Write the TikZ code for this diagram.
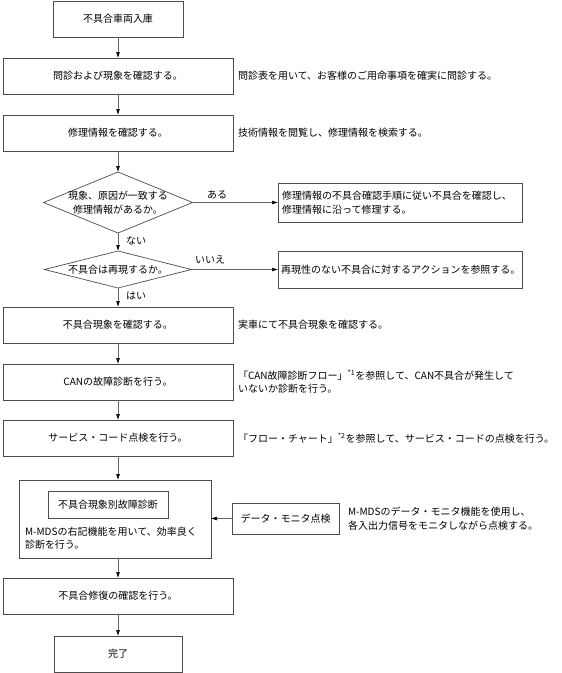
\documentclass[tikz,border=0pt]{standalone}
\usepackage{fontspec}
\setmainfont{Noto Sans CJK JP}
\usetikzlibrary{shapes.geometric,arrows.meta}
\begin{document}
\begin{tikzpicture}[x=1pt,y=-1pt,
  every node/.style={font=\fontsize{10}{13.5}\selectfont, inner sep=0pt, outer sep=0pt},
  box/.style={draw=black!70, line width=0.7pt, minimum height=36pt, minimum width=230pt},
  dia/.style={diamond, draw=black!70, line width=0.7pt},
  note/.style={anchor=west, align=left},
  arr/.style={draw=black!60, line width=0.7pt, -{Latex[length=6pt,width=4pt,color=black]}}
  ]
\fill[white] (0,0) rectangle (562,673);
\useasboundingbox (0,0) rectangle (562,673);

\node[box, minimum width=130pt] (b1) at (118,19) {不具合車両入庫};
\node[box] (b2) at (118,76) {問診および現象を確認する。};
\node[note] (n2) at (238,76) {問診表を用いて、お客様のご用命事項を確実に問診する。};
\node[box] (b3) at (118,133) {修理情報を確認する。};
\node[note] (n3) at (238,133) {技術情報を閲覧し、修理情報を検索する。};

\node[dia, minimum width=149pt, minimum height=61pt] (d1) at (118,202.5) {};
\node[align=center] (d1t) at (118,202.5) {現象、原因が一致する\\修理情報があるか。};
\node[box, minimum width=244pt, minimum height=39pt, text width=236pt, align=left] (r1) at (400,202.5) {修理情報の不具合確認手順に従い不具合を確認し、\\修理情報に沿って修理する。};
\node (lA) at (217,195) {ある};
\node[anchor=west] (lB) at (126,241) {ない};

\node[dia, minimum width=147pt, minimum height=37pt] (d2) at (118,269.5) {};
\node (d2t) at (118,269.5) {不具合は再現するか。};
\node[box, minimum width=244pt, minimum height=37pt, text width=238pt, align=left] (r2) at (400,269.5) {再現性のない不具合に対するアクションを参照する。};
\node (lC) at (210,260) {いいえ};
\node[anchor=west] (lD) at (126,296) {はい};

\node[box] (b4) at (118,325) {不具合現象を確認する。};
\node[note] (n4) at (238,325) {実車にて不具合現象を確認する。};
\node[box] (b5) at (118,382) {CANの故障診断を行う。};
\node[note] (n5) at (238,382) {「CAN故障診断フロー」\textsuperscript{*1}を参照して、CAN不具合が発生して\\いないか診断を行う。};
\node[box] (b6) at (118,438) {サービス・コード点検を行う。};
\node[note] (n6) at (238,438) {「フロー・チャート」\textsuperscript{*2}を参照して、サービス・コードの点検を行う。};

\node[box, minimum width=192pt, minimum height=78pt] (b7) at (115,519) {};
\node[box, minimum width=120pt, minimum height=27pt] (b7in) at (108,504.5) {不具合現象別故障診断};
\node[anchor=north west, align=left] (b7t) at (25,527) {M-MDSの右記機能を用いて、効率良く\\診断を行う。};
\node[box, minimum width=107pt, minimum height=31pt] (dm) at (285.5,518.5) {データ・モニタ点検};
\node[note] (ndm) at (348,518.5) {M-MDSのデータ・モニタ機能を使用し、\\各入出力信号をモニタしながら点検する。};

\node[box] (b8) at (118,596) {不具合修復の確認を行う。};
\node[box, minimum width=128pt] (b9) at (118,654) {完了};

\draw[arr] (b1.south) -- (b2.north);
\draw[arr] (b2.south) -- (b3.north);
\draw[arr] (b3.south) -- (d1.north);
\draw[arr] (d1.east) -- (r1.west);
\draw[arr] (d1.south) -- (d2.north);
\draw[arr] (d2.east) -- (r2.west);
\draw[arr] (d2.south) -- (b4.north);
\draw[arr] (b4.south) -- (b5.north);
\draw[arr] (b5.south) -- (b6.north);
\draw[arr] (b6.south) -- (b6.south |- b7.north);
\draw[arr] (b8.north |- b7.south) -- (b8.north);
\draw[arr] (b8.south) -- (b9.north);
\draw[arr] (dm.west) -- (dm.west -| b7.east);
\end{tikzpicture}
\end{document}
